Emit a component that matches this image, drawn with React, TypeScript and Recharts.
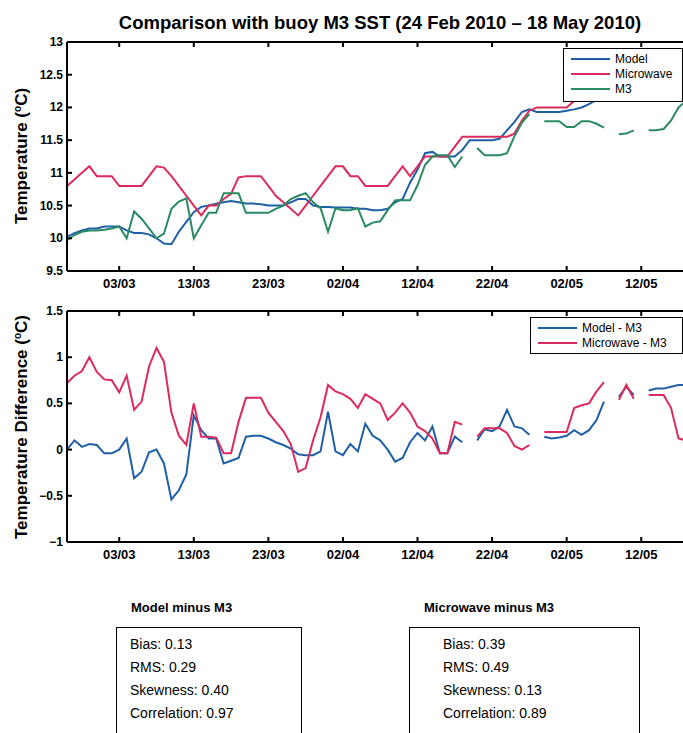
import React from 'react';
import { LineChart, Line, XAxis, YAxis, Legend } from 'recharts';

// x axis: day index from 24 Feb 2010 (day 0) to 18 May 2010 (day 83)
const tickDays = [7, 17, 27, 37, 47, 57, 67, 77];
const tickLabels = ['03/03', '13/03', '23/03', '02/04', '12/04', '22/04', '02/05', '12/05'];
const tempTicks = [9.5, 10, 10.5, 11, 11.5, 12, 12.5, 13];
const diffTicks = [-1, -0.5, 0, 0.5, 1, 1.5];

// daily SST (deg C)
const model = [
  10.02, 10.08, 10.12, 10.15, 10.15, 10.18, 10.18, 10.18, 10.12, 10.08,
  10.08, 10.06, 10.0, 9.92, 9.91, 10.1, 10.25, 10.4, 10.48, 10.5,
  10.53, 10.55, 10.57, 10.55, 10.53, 10.53, 10.52, 10.5, 10.5, 10.5,
  10.55, 10.6, 10.6, 10.5, 10.48, 10.48, 10.47, 10.47, 10.47, 10.45,
  10.45, 10.43, 10.43, 10.45, 10.55, 10.6, 10.85, 11.05, 11.3, 11.32,
  11.25, 11.25, 11.25, 11.35, 11.5, 11.5, 11.5, 11.5, 11.52, 11.65,
  11.78, 11.93, 11.97, 11.93, 11.93, 11.93, 11.93, 11.95, 11.97, 12.0,
  12.05, 12.12, 12.2, 12.2, 12.17, 12.28, 12.25, 12.27, 12.29, 12.31,
  12.33, 12.48, 12.7, 12.8,
];
const microwave = [
  10.8, 10.9, 11.0, 11.1, 10.95, 10.95, 10.95, 10.8, 10.8, 10.8,
  10.8, 10.95, 11.1, 11.08, 10.95, 10.8, 10.65, 10.5, 10.35, 10.5,
  10.5, 10.6, 10.68, 10.93, 10.95, 10.95, 10.95, 10.8, 10.65, 10.55,
  10.45, 10.35, 10.5, 10.65, 10.8, 10.95, 11.1, 11.1, 10.95, 10.95,
  10.8, 10.8, 10.8, 10.8, 10.95, 11.1, 10.95, 11.1, 11.25, 11.25,
  11.25, 11.25, 11.4, 11.55, 11.55, 11.55, 11.55, 11.55, 11.55, 11.55,
  11.6, 11.8, 11.95, 12.0, 12.0, 12.0, 12.0, 12.0, 12.1, 12.15,
  12.2, 12.25, 12.3, 12.3, 12.13, 12.3, 12.2, 12.22, 12.24, 12.24,
  12.26, 12.25, 12.12, 12.2,
];
const buoyM3 = [
  9.97, 10.05, 10.1, 10.12, 10.12, 10.13, 10.15, 10.18, 10.0, 10.41,
  10.3, 10.15, 10.0, 10.07, 10.45, 10.56, 10.61, 10.0, 10.2, 10.39,
  10.39, 10.69, 10.69, 10.69, 10.39, 10.39, 10.39, 10.39, 10.45, 10.5,
  10.6, 10.65, 10.69, 10.55, 10.46, 10.1, 10.46, 10.43, 10.43, 10.46,
  10.18, 10.24, 10.26, 10.43, 10.58, 10.58, 10.58, 10.81, 11.12, 11.25,
  11.27, 11.27, 11.09, 11.25, null, 11.38, 11.27, 11.27, 11.27, 11.3,
  11.56, 11.77, 11.9, null, 11.79, 11.79, 11.79, 11.7, 11.7, 11.79,
  11.79, 11.75, 11.69, null, 11.59, 11.6, 11.65, null, 11.65, 11.65,
  11.67, 11.8, 12.0, 12.1,
];

// daily differences (deg C)
const modelMinusM3 = [
  0.0, 0.1, 0.03, 0.06, 0.05, -0.04, -0.04, 0.0, 0.12, -0.31,
  -0.24, -0.03, 0.0, -0.15, -0.54, -0.44, -0.27, 0.37, 0.21, 0.12,
  0.12, -0.15, -0.12, -0.09, 0.14, 0.15, 0.15, 0.12, 0.08, 0.05,
  0.01, -0.05, -0.06, -0.06, -0.02, 0.41, -0.02, -0.06, 0.06, -0.02,
  0.28, 0.15, 0.1, 0.0, -0.13, -0.09, 0.08, 0.18, 0.1, 0.25,
  -0.04, -0.04, 0.14, 0.08, null, 0.1, 0.22, 0.2, 0.25, 0.43,
  0.25, 0.23, 0.16, null, 0.14, 0.12, 0.13, 0.15, 0.21, 0.16,
  0.21, 0.32, 0.52, null, 0.57, 0.68, 0.59, null, 0.64, 0.66,
  0.66, 0.68, 0.7, 0.7,
];
const microwaveMinusM3 = [
  0.72, 0.8, 0.85, 1.0, 0.84, 0.76, 0.75, 0.62, 0.8, 0.43,
  0.52, 0.9, 1.1, 0.95, 0.4, 0.15, 0.05, 0.5, 0.14, 0.14,
  0.13, -0.04, -0.04, 0.3, 0.56, 0.56, 0.56, 0.4, 0.3, 0.2,
  0.06, -0.24, -0.2, 0.1, 0.35, 0.7, 0.63, 0.6, 0.55, 0.45,
  0.6, 0.55, 0.5, 0.32, 0.4, 0.5, 0.4, 0.25, 0.2, 0.12,
  -0.04, -0.04, 0.3, 0.27, null, 0.14, 0.23, 0.23, 0.23, 0.18,
  0.04, 0.0, 0.05, null, 0.19, 0.19, 0.19, 0.19, 0.45, 0.48,
  0.5, 0.63, 0.73, null, 0.54, 0.7, 0.55, null, 0.59, 0.59,
  0.59, 0.45, 0.12, 0.1,
];

const statNames = ['Bias', 'RMS', 'Skewness', 'Correlation'];
const modelStats = ['0.13', '0.29', '0.40', '0.97'];
const microwaveStats = ['0.39', '0.49', '0.13', '0.89'];

const FONT = '"Liberation Sans", Arial, Helvetica, sans-serif';
const BLUE = '#1f5fa6';
const RED = '#dc2a5c';
const GREEN = '#2a8a62';

const tempData = model.map((v, i) => ({
  day: i,
  model: v,
  microwave: microwave[i],
  m3: buoyM3[i],
}));

const diffData = modelMinusM3.map((v, i) => ({
  day: i,
  modelDiff: v,
  microwaveDiff: microwaveMinusM3[i],
}));

const dayLabel = (d: number) => tickLabels[tickDays.indexOf(d)] ?? '';
const numLabel = (v: number) => (v < 0 ? '\u2212' + String(-v) : String(v));

// MATLAB style: ticks point into the plot box
const BottomTick = ({ x, y, payload }: any) => (
  <g>
    <line x1={x} y1={y} x2={x} y2={y - 5} stroke="#000" strokeWidth={2} />
    <text x={x} y={y + 17} textAnchor="middle" fontFamily={FONT} fontSize={13} fontWeight="bold" fill="#000">
      {dayLabel(payload.value)}
    </text>
  </g>
);

const TopTick = ({ x, y }: any) => (
  <line x1={x} y1={y} x2={x} y2={y + 5} stroke="#000" strokeWidth={2} />
);

const LeftTick = ({ x, y, payload }: any) => (
  <g>
    <line x1={x} y1={y} x2={x + 5} y2={y} stroke="#000" strokeWidth={2} />
    <text x={x - 4} y={y + 4} textAnchor="end" fontFamily={FONT} fontSize={12} fontWeight="bold" fill="#000">
      {numLabel(payload.value)}
    </text>
  </g>
);

const RightTick = ({ x, y }: any) => (
  <line x1={x} y1={y} x2={x - 5} y2={y} stroke="#000" strokeWidth={2} />
);

// legend in series order (recharts sorts by name otherwise)
const BoxLegend = ({ payload, order }: any) => {
  const items = [...(payload || [])].sort((a: any, b: any) => order.indexOf(a.value) - order.indexOf(b.value));
  return (
    <div style={{ border: '1.5px solid #000', background: '#fff', padding: '2px 0 2px 7px', boxSizing: 'border-box', height: '100%' }}>
      {items.map((p: any) => (
        <div key={p.value} style={{ display: 'flex', alignItems: 'center', height: 15 }}>
          <svg width={39} height={4}>
            <line x1={0} y1={2} x2={39} y2={2} stroke={p.color} strokeWidth={2} />
          </svg>
          <span style={{ marginLeft: 5, fontFamily: FONT, fontSize: 12, color: '#000', whiteSpace: 'nowrap' }}>{p.value}</span>
        </div>
      ))}
    </div>
  );
};

const axisLine = { stroke: '#000', strokeWidth: 2 };

const YTitle = ({ cx, cy, text }: { cx: number; cy: number; text: string }) => (
  <div
    style={{
      position: 'absolute',
      left: cx,
      top: cy,
      transform: 'translate(-50%, -50%) rotate(-90deg)',
      whiteSpace: 'nowrap',
      fontFamily: FONT,
      fontWeight: 'bold',
      fontSize: 17,
      color: '#000',
    }}
  >
    {text} (<sup style={{ fontSize: 10 }}>o</sup>C)
  </div>
);

const StatBox = ({ left, title, values }: { left: number; title: string; values: string[] }) => (
  <>
    <div style={{ position: 'absolute', left: left + 15, top: 600, fontFamily: FONT, fontWeight: 'bold', fontSize: 13, color: '#000' }}>
      {title}
    </div>
    <div style={{ position: 'absolute', left, top: 627, width: left > 300 ? 231 : 186, height: 130, border: '1.5px solid #000', boxSizing: 'border-box' }} />
    {statNames.map((n, i) => (
      <div
        key={n}
        style={{ position: 'absolute', left: left + (left > 300 ? 34 : 14), top: 636 + i * 23, fontFamily: FONT, fontSize: 14, color: '#000' }}
      >
        {n}: {values[i]}
      </div>
    ))}
  </>
);

export default function App() {
  return (
    <div style={{ position: 'absolute', left: 0, top: 0, width: 683, height: 733, overflow: 'hidden', background: '#fff' }}>
      <div
        style={{
          position: 'absolute',
          left: 380,
          top: 12,
          transform: 'translateX(-50%)',
          whiteSpace: 'nowrap',
          fontFamily: FONT,
          fontWeight: 'bold',
          fontSize: 18.5,
          color: '#000',
        }}
      >
        Comparison with buoy M3 SST (24 Feb 2010 – 18 May 2010)
      </div>

      <div style={{ position: 'absolute', left: 0, top: 0 }}>
        <LineChart width={700} height={300} data={tempData} margin={{ top: 32, right: 4, bottom: 9, left: 27 }}>
          <XAxis xAxisId="b" dataKey="day" type="number" domain={[0, 83]} ticks={tickDays} interval={0} height={20}
            tickSize={0} tickMargin={0} tickLine={false} axisLine={axisLine} tick={(p: any) => <BottomTick {...p} />} />
          <XAxis xAxisId="t" orientation="top" dataKey="day" type="number" domain={[0, 83]} ticks={tickDays} interval={0} height={10}
            tickSize={0} tickMargin={0} tickLine={false} axisLine={axisLine} tick={(p: any) => <TopTick {...p} />} />
          <YAxis yAxisId="l" type="number" domain={[9.5, 13]} ticks={tempTicks} interval={0} width={40}
            tickSize={0} tickMargin={0} tickLine={false} axisLine={axisLine} tick={(p: any) => <LeftTick {...p} />} />
          <YAxis yAxisId="r" orientation="right" type="number" domain={[9.5, 13]} ticks={tempTicks} interval={0} width={10}
            tickSize={0} tickMargin={0} tickLine={false} axisLine={axisLine} tick={(p: any) => <RightTick {...p} />} />
          <Line xAxisId="b" yAxisId="l" type="linear" dataKey="model" name="Model" stroke={BLUE} strokeWidth={2} dot={false} isAnimationActive={false} />
          <Line xAxisId="b" yAxisId="l" type="linear" dataKey="microwave" name="Microwave" stroke={RED} strokeWidth={2} dot={false} isAnimationActive={false} />
          <Line xAxisId="b" yAxisId="l" type="linear" dataKey="m3" name="M3" stroke={GREEN} strokeWidth={2} dot={false} isAnimationActive={false} />
          <Legend layout="vertical" align="center" verticalAlign="middle"
            content={(p: any) => <BoxLegend {...p} order={['Model', 'Microwave', 'M3']} />}
            wrapperStyle={{ left: 563, top: 48, width: 120, height: 54 }} />
        </LineChart>
      </div>

      <div style={{ position: 'absolute', left: 0, top: 280 }}>
        <LineChart width={700} height={300} data={diffData} margin={{ top: 21, right: 4, bottom: 18, left: 27 }}>
          <XAxis xAxisId="b" dataKey="day" type="number" domain={[0, 83]} ticks={tickDays} interval={0} height={20}
            tickSize={0} tickMargin={0} tickLine={false} axisLine={axisLine} tick={(p: any) => <BottomTick {...p} />} />
          <XAxis xAxisId="t" orientation="top" dataKey="day" type="number" domain={[0, 83]} ticks={tickDays} interval={0} height={10}
            tickSize={0} tickMargin={0} tickLine={false} axisLine={axisLine} tick={(p: any) => <TopTick {...p} />} />
          <YAxis yAxisId="l" type="number" domain={[-1, 1.5]} ticks={diffTicks} interval={0} width={40}
            tickSize={0} tickMargin={0} tickLine={false} axisLine={axisLine} tick={(p: any) => <LeftTick {...p} />} />
          <YAxis yAxisId="r" orientation="right" type="number" domain={[-1, 1.5]} ticks={diffTicks} interval={0} width={10}
            tickSize={0} tickMargin={0} tickLine={false} axisLine={axisLine} tick={(p: any) => <RightTick {...p} />} />
          <Line xAxisId="b" yAxisId="l" type="linear" dataKey="modelDiff" name="Model - M3" stroke={BLUE} strokeWidth={2} dot={false} isAnimationActive={false} />
          <Line xAxisId="b" yAxisId="l" type="linear" dataKey="microwaveDiff" name="Microwave - M3" stroke={RED} strokeWidth={2} dot={false} isAnimationActive={false} />
          <Legend layout="vertical" align="center" verticalAlign="middle"
            content={(p: any) => <BoxLegend {...p} order={['Model - M3', 'Microwave - M3']} />}
            wrapperStyle={{ left: 530, top: 37, width: 153, height: 37 }} />
        </LineChart>
      </div>

      <YTitle cx={22} cy={156} text="Temperature" />
      <YTitle cx={22} cy={427} text="Temperature Difference" />

      <StatBox left={116} title="Model minus M3" values={modelStats} />
      <StatBox left={409} title="Microwave minus M3" values={microwaveStats} />
    </div>
  );
}
